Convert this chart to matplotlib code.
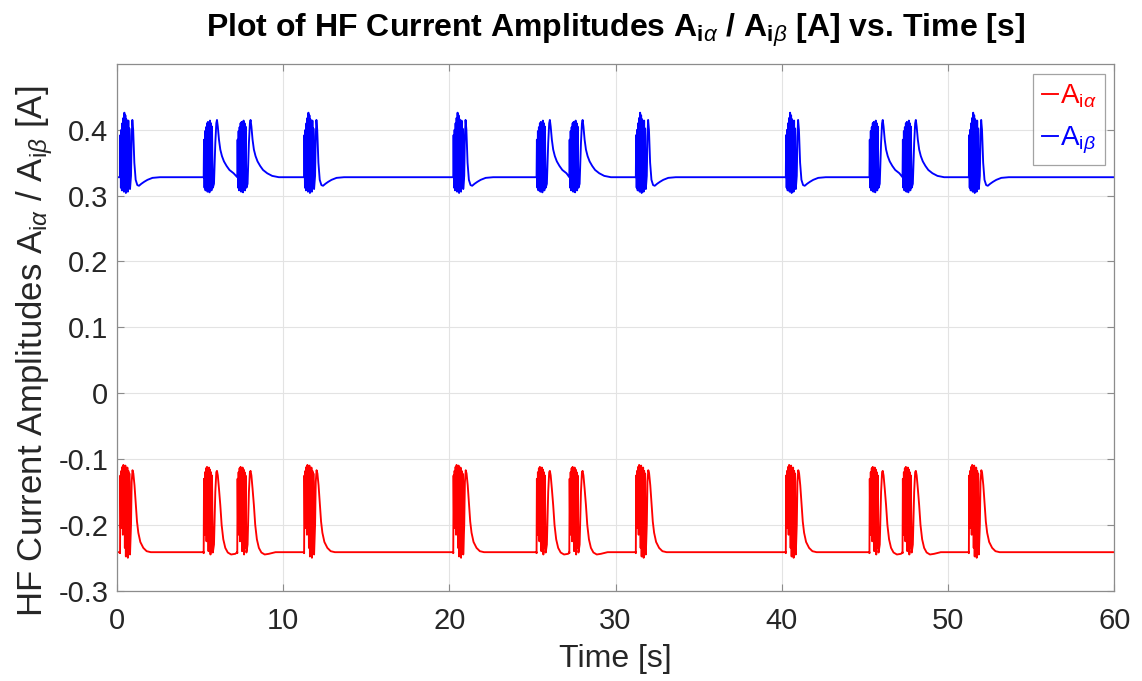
import numpy as np
import matplotlib
matplotlib.use("Agg")
import matplotlib.pyplot as plt
from matplotlib import font_manager

# ---------------- data ----------------
t_end = 60.0
base_beta = 0.328
base_alpha = -0.2415

# event start times [s] and their pattern type
event_times = [0.20, 5.23, 7.25, 11.27, 20.24, 25.25, 27.22, 31.22, 40.24, 45.27, 47.26, 51.25]
event_kind = ["A", "B", "B", "A", "A", "B", "B", "A", "A", "B", "B", "A"]

# pattern A: burst, single pulse, then undershoot (beta) / decay (alpha)
beta_A_dt = [0.00, 0.02, 0.05, 0.08, 0.11, 0.14, 0.17, 0.20, 0.23, 0.26,
             0.29, 0.32, 0.35, 0.38, 0.41, 0.44, 0.47, 0.50, 0.53, 0.56,
             0.60, 0.66, 0.70, 0.74, 0.79, 0.86, 0.94, 1.04, 1.14, 1.28,
             1.45, 1.65, 1.95, 2.40]
beta_A_val = [0.328, 0.392, 0.312, 0.400, 0.308, 0.410, 0.314, 0.418, 0.306, 0.426,
              0.310, 0.422, 0.304, 0.416, 0.312, 0.410, 0.306, 0.414, 0.315, 0.402,
              0.310, 0.330, 0.390, 0.415, 0.400, 0.350, 0.324, 0.316, 0.315, 0.318,
              0.321, 0.324, 0.327, 0.328]
alpha_A_dt = [0.00, 0.02, 0.05, 0.08, 0.11, 0.14, 0.17, 0.20, 0.23, 0.26,
              0.29, 0.32, 0.35, 0.38, 0.41, 0.44, 0.47, 0.50, 0.53, 0.56,
              0.60, 0.66, 0.70, 0.75, 0.80, 0.87, 0.95, 1.02, 1.10, 1.22,
              1.40, 1.60, 1.85]
alpha_A_val = [-0.243, -0.125, -0.205, -0.118, -0.180, -0.112, -0.215, -0.109, -0.195, -0.114,
               -0.235, -0.110, -0.248, -0.116, -0.200, -0.113, -0.250, -0.118, -0.230, -0.122,
               -0.245, -0.200, -0.135, -0.117, -0.122, -0.140, -0.170, -0.195, -0.212, -0.226,
               -0.235, -0.240, -0.2415]

# pattern B: burst, single pulse, slow relaxation
beta_B_dt = [0.00, 0.02, 0.05, 0.08, 0.11, 0.14, 0.17, 0.20, 0.23, 0.26,
             0.29, 0.32, 0.35, 0.38, 0.41, 0.44, 0.47, 0.50,
             0.55, 0.62, 0.70, 0.76, 0.80, 0.85, 0.92, 1.00, 1.10, 1.22,
             1.38, 1.55, 1.80, 2.10, 2.50]
beta_B_val = [0.328, 0.385, 0.312, 0.398, 0.308, 0.404, 0.315, 0.410, 0.306, 0.412,
              0.312, 0.408, 0.305, 0.414, 0.314, 0.410, 0.308, 0.405,
              0.312, 0.318, 0.380, 0.410, 0.415, 0.405, 0.385, 0.370, 0.360, 0.352,
              0.345, 0.339, 0.334, 0.330, 0.328]
alpha_B_dt = [0.00, 0.02, 0.05, 0.08, 0.11, 0.14, 0.17, 0.20, 0.23, 0.26,
              0.29, 0.32, 0.35, 0.38, 0.41, 0.44, 0.47, 0.50,
              0.55, 0.62, 0.70, 0.76, 0.80, 0.85, 0.92, 1.00, 1.08, 1.18,
              1.30, 1.45, 1.65, 1.90, 2.30]
alpha_B_val = [-0.243, -0.130, -0.215, -0.120, -0.190, -0.114, -0.225, -0.112, -0.200, -0.118,
               -0.240, -0.113, -0.220, -0.116, -0.245, -0.120, -0.235, -0.125,
               -0.242, -0.230, -0.150, -0.120, -0.118, -0.125, -0.145, -0.170, -0.200, -0.222,
               -0.235, -0.242, -0.245, -0.244, -0.2415]

y_ticks = [-0.3, -0.2, -0.1, 0, 0.1, 0.2, 0.3, 0.4]
y_tick_labels = ["-0.3", "-0.2", "-0.1", "0", "0.1", "0.2", "0.3", "0.4"]
x_ticks = [0, 10, 20, 30, 40, 50, 60]


def build_trace(base, templates):
    """Place the event templates on a flat baseline, cut at the next event."""
    t = [0.0]
    y = [base]
    for i, (t0, kind) in enumerate(zip(event_times, event_kind)):
        t_next = event_times[i + 1] if i + 1 < len(event_times) else t_end
        dts, vals = templates[kind]
        t.append(t0)
        y.append(base)
        for dt, v in zip(dts, vals):
            if t0 + dt < t_next:
                t.append(t0 + dt)
                y.append(v)
    t.append(t_end)
    y.append(base)
    return np.array(t), np.array(y)


t_alpha, a_alpha = build_trace(base_alpha, {"A": (alpha_A_dt, alpha_A_val),
                                            "B": (alpha_B_dt, alpha_B_val)})
t_beta, a_beta = build_trace(base_beta, {"A": (beta_A_dt, beta_A_val),
                                         "B": (beta_B_dt, beta_B_val)})

# ---------------- style ----------------
available = {f.name for f in font_manager.fontManager.ttflist}
text_font = "Liberation Sans" if "Liberation Sans" in available else "DejaVu Sans"

plt.rcParams["font.family"] = [text_font, "DejaVu Sans"]
plt.rcParams["mathtext.fontset"] = "custom"
plt.rcParams["mathtext.rm"] = text_font
plt.rcParams["mathtext.it"] = text_font + ":italic"
plt.rcParams["mathtext.bf"] = text_font + ":bold"

axis_grey = "#8c8c8c"
text_grey = "#262626"

fig = plt.figure(figsize=(11.42, 6.81), dpi=100)
ax = fig.add_axes([0.1022, 0.1326, 0.8736, 0.7730])

l1, = ax.plot(t_alpha, a_alpha, color="#ff0000", lw=1.35, label=r"A$_{\mathrm{i}\alpha}$")
l2, = ax.plot(t_beta, a_beta, color="#0000ff", lw=1.35, label=r"A$_{\mathrm{i}\beta}$")

ax.set_xlim(0, 60)
ax.set_ylim(-0.3, 0.4995)
ax.set_xticks(x_ticks)
ax.set_yticks(y_ticks)
ax.set_yticklabels(y_tick_labels)

ax.grid(True, color="#e3e3e3", lw=0.8)
ax.set_axisbelow(True)
for s in ax.spines.values():
    s.set_color(axis_grey)
    s.set_linewidth(0.9)
ax.tick_params(direction="in", length=5, width=0.8, colors=axis_grey,
               labelcolor=text_grey, labelsize=21, top=True, right=True)
ax.tick_params(axis="x", pad=12)
ax.tick_params(axis="y", pad=6)

ax.set_xlabel("Time [s]", fontsize=23, color=text_grey, labelpad=6)
ax.set_ylabel(r"HF Current Amplitudes A$_{\mathrm{i}\alpha}$ / A$_{\mathrm{i}\beta}$ [A]",
              fontsize=25, color=text_grey)
ax.yaxis.set_label_coords(-0.062, 0.455)
ax.set_title(r"Plot of HF Current Amplitudes A$_{\mathbf{i}\alpha}$ / A$_{\mathbf{i}\beta}$ [A] vs. Time [s]",
             fontsize=23, fontweight="bold", pad=20)

leg = ax.legend(loc="upper right", fontsize=20, handlelength=0.6, handletextpad=0.05,
                borderpad=0.3, borderaxespad=0.35, labelspacing=0.55, frameon=True,
                fancybox=False)
leg.get_frame().set_edgecolor(axis_grey)
leg.get_frame().set_linewidth(0.9)
for txt, line in zip(leg.get_texts(), [l1, l2]):
    txt.set_color(line.get_color())

fig.savefig("out.png", dpi=100, facecolor="white")
